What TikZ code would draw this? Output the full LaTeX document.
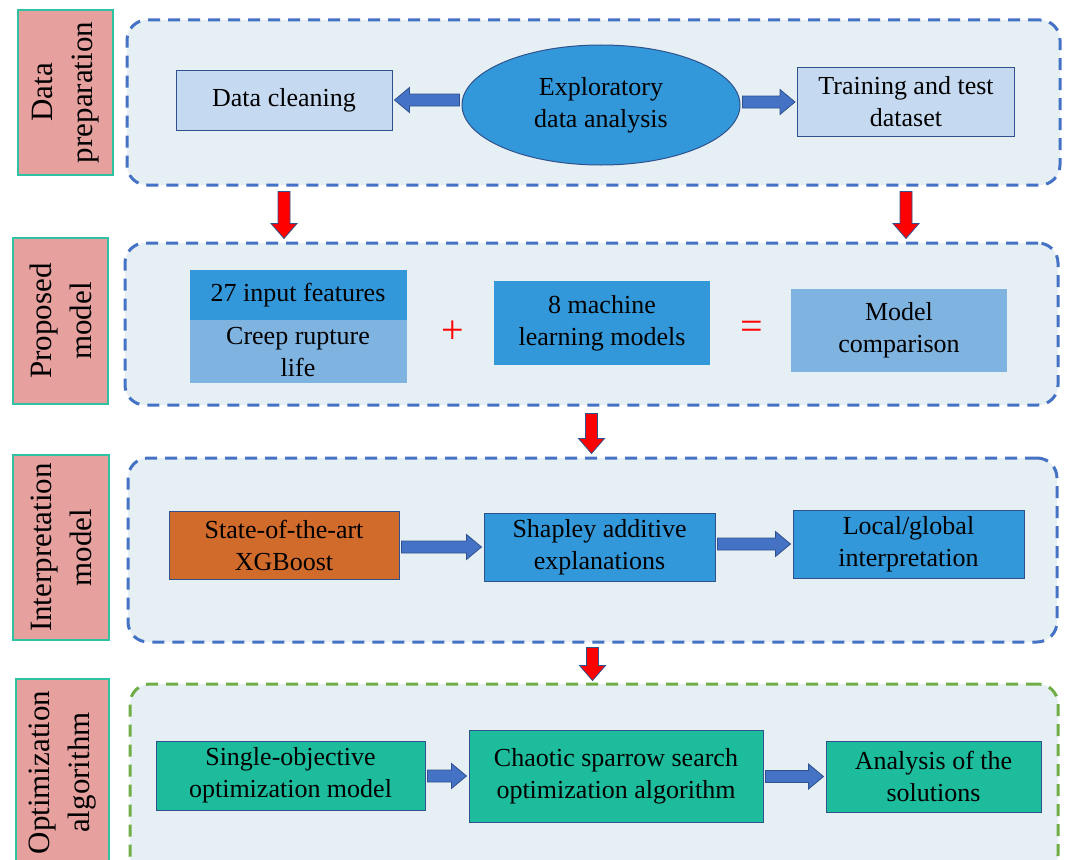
\documentclass[tikz,border=0pt]{standalone}
\usepackage{fontspec}
\setmainfont{Liberation Serif}
\usepackage{xcolor}
\usepackage{tikz}
\usetikzlibrary{shapes.geometric,calc,positioning}

\definecolor{pinklbl}{HTML}{E6A09E}
\definecolor{tealline}{HTML}{2EC2A2}
\definecolor{framefill}{HTML}{E6EFF3}
\definecolor{frameblue}{HTML}{4472C4}
\definecolor{framegreen}{HTML}{70AD47}
\definecolor{edgeblue}{HTML}{2F528F}
\definecolor{lightbox}{HTML}{C5D9F0}
\definecolor{midblue}{HTML}{3398DA}
\definecolor{paleblue}{HTML}{7FB3E0}
\definecolor{orangebox}{HTML}{D06B2B}
\definecolor{tealbox}{HTML}{1CBC9C}

% horizontal block arrow between two anchors
\newcommand{\blockarrow}[2]{%
    \path[blockarrow] let \p1=(#1), \p2=(#2),
        \n1={\x1+2*sign(\x2-\x1)}, \n2={\x2-2*sign(\x2-\x1)}, \n3={\x2-17*sign(\x2-\x1)} in
        (\n1,\y2+6pt) -- (\n3,\y2+6pt) -- (\n3,\y2+12.5pt) -- (\n2,\y2)
        -- (\n3,\y2-12.5pt) -- (\n3,\y2-6pt) -- (\n1,\y2-6pt) -- cycle;}
% red arrow pointing down
\newcommand{\redarrow}[2]{%
    \path[redarrow] let \p1=(#1), \p2=(#2), \n1={\y2+15pt} in
        (\x1-6pt,\y1) -- (\x1-6pt,\n1) -- (\x1-13pt,\n1) -- (\x1,\y2)
        -- (\x1+13pt,\n1) -- (\x1+6pt,\n1) -- (\x1+6pt,\y1) -- cycle;}

\begin{document}
\begin{tikzpicture}[
    x=1pt, y=-1pt,
    font=\fontsize{26}{32}\selectfont,
    frame/.style={draw=frameblue, fill=framefill, line width=3pt, dash pattern=on 12pt off 8pt, rounded corners=20pt, inner sep=0pt},
    stage/.style={draw=tealline, fill=pinklbl, line width=1.2pt, rotate=90, align=center, inner sep=0pt, font=\fontsize{31}{40}\selectfont},
    box/.style={draw=edgeblue, line width=1pt, align=center, inner sep=0pt},
    flat/.style={align=center, inner sep=0pt},
    opsign/.style={text=red, inner sep=0pt, font=\fontsize{40}{40}\selectfont},
    blockarrow/.style={draw=edgeblue, fill=frameblue, line width=0.8pt},
    redarrow/.style={draw=edgeblue, fill=red, line width=0.8pt}
]
    \useasboundingbox (0,0) rectangle (1067,859);

    % Dashed frames
    \node[frame, minimum width=933pt, minimum height=165pt] (prep) at (593.5,102.5) {};
    \node[frame, minimum width=933pt, minimum height=162pt] (prop) at (591.5,324) {};
    \node[frame, minimum width=929pt, minimum height=184pt] (interp) at (592.5,550) {};
    \node[frame, draw=framegreen, minimum width=928pt, minimum height=191pt] (optim) at (594,779.5) {};

    % Stage labels
    \node[stage, minimum width=165pt, minimum height=95pt] (lprep) at (65.5,92.5) {Data\\preparation};
    \node[stage, minimum width=166pt, minimum height=95pt] (lprop) at (60.5,321) {Proposed\\model};
    \node[stage, minimum width=185pt, minimum height=96pt] (linterp) at (61,547.5) {Interpretation\\model};
    \node[stage, minimum width=187pt, minimum height=93pt] (loptim) at (62.5,772.5) {Optimization\\algorithm};

    % Data preparation
    \node[box, fill=lightbox, minimum width=216pt, minimum height=60pt] (clean) at (284,100) {Data cleaning};
    \node[box, ellipse, fill=midblue, minimum width=278pt, minimum height=120pt] (eda) at (601,105) {Exploratory\\data analysis};
    \node[box, fill=lightbox, minimum width=217pt, minimum height=69pt] (split) at (906,102) {Training and test\\dataset};
    \blockarrow{eda.west}{clean.east}
    \blockarrow{eda.east}{split.west}

    % Proposed model
    \node[flat, fill=midblue, minimum width=217pt, minimum height=50pt] (inp) at (298,295) {27 input features};
    \node[flat, fill=paleblue, minimum width=217pt, minimum height=63pt, below=0pt of inp] (creep) {Creep rupture\\life};
    \node[opsign] (plus) at (453,332) {+};
    \node[flat, fill=midblue, minimum width=216pt, minimum height=84pt] (ml) at (602,323) {8 machine\\learning models};
    \node[opsign] (eq) at (752,330) {=};
    \node[flat, fill=paleblue, minimum width=216pt, minimum height=83pt] (cmp) at (899,330.5) {Model\\comparison};

    % Interpretation model
    \node[box, fill=orangebox, minimum width=230pt, minimum height=68pt] (xgb) at (284,545) {State-of-the-art\\XGBoost};
    \node[box, fill=midblue, minimum width=231pt, minimum height=68pt] (shap) at (599.5,547) {Shapley additive\\explanations};
    \node[box, fill=midblue, minimum width=231pt, minimum height=68pt] (local) at (908.5,544) {Local/global\\interpretation};
    \blockarrow{xgb.east}{shap.west}
    \blockarrow{shap.east}{local.west}

    % Optimization algorithm
    \node[box, fill=tealbox, minimum width=269pt, minimum height=69pt] (single) at (290.5,775.5) {Single-objective\\optimization model};
    \node[box, fill=tealbox, minimum width=294pt, minimum height=92pt] (ssa) at (616,776) {Chaotic sparrow search\\optimization algorithm};
    \node[box, fill=tealbox, minimum width=215pt, minimum height=71pt] (sol) at (933.5,776.5) {Analysis of the\\solutions};
    \blockarrow{single.east}{ssa.west}
    \blockarrow{ssa.east}{sol.west}

    % Stage arrows
    \redarrow{$(prep.south -| clean)+(0,5)$}{$(prop.north -| clean)+(0,-3)$}
    \redarrow{$(prep.south -| split)+(0,5)$}{$(prop.north -| split)+(0,-3)$}
    \redarrow{$(prop.south)+(0,7)$}{$(interp.north)+(0,-3)$}
    \redarrow{$(interp.south)+(0,4)$}{$(optim.north)+(0,-2)$}
\end{tikzpicture}
\end{document}
